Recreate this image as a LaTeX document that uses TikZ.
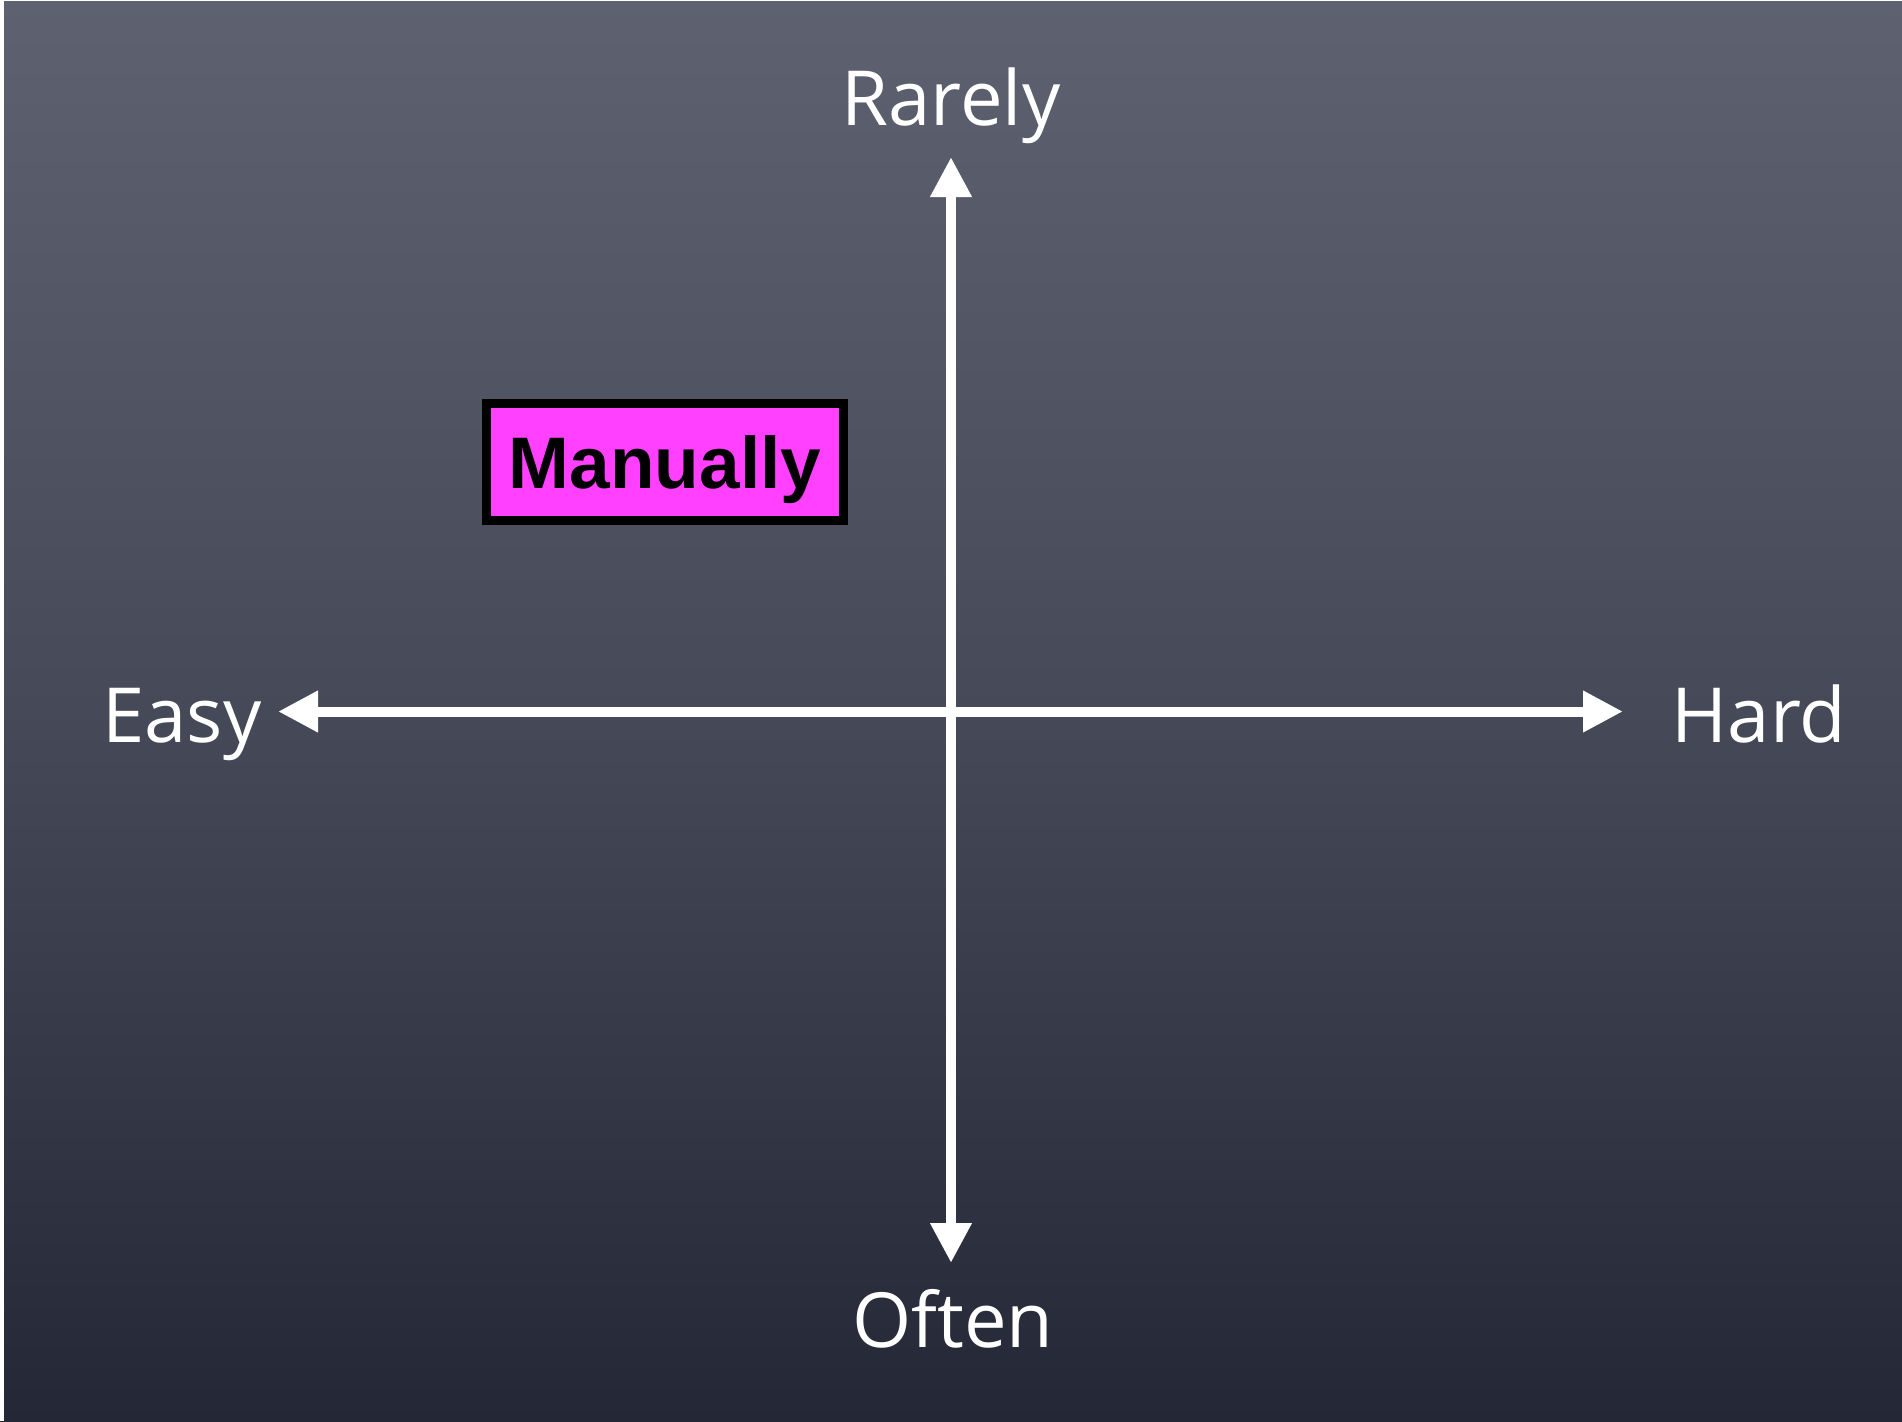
\documentclass[tikz,border=0pt]{standalone}
\usepackage{fontspec}
\setmainfont{Open Sans}
\newfontfamily\boxfont{Liberation Sans}
\usetikzlibrary{arrows.meta}
\definecolor{boardtop}{RGB}{94,98,112}
\definecolor{boardmid}{RGB}{70,74,88}
\definecolor{boardbot}{RGB}{36,39,53}
\definecolor{magentabox}{RGB}{255,64,255}
\tikzset{
  axislabel/.style={text=white, font=\fontsize{76}{90}\selectfont, anchor=base, inner sep=0pt},
  axisline/.style={draw=white, line width=10pt, {Triangle[width=39pt,length=40pt]}-{Triangle[width=39pt,length=40pt]}, white},
  tagbox/.style={draw=black, line width=9pt, fill=magentabox, minimum width=357pt, minimum height=117pt, inner sep=0pt,
    text depth=0pt, font=\boxfont\bfseries\fontsize{73}{80}\selectfont, text=black}
}
\begin{document}
\begin{tikzpicture}[x=1pt,y=-1pt]
\useasboundingbox (0,0) rectangle (1902,1421);
\shade[top color=boardtop, bottom color=boardbot, middle color=boardmid] (0,0) rectangle (1902,1421);
\fill[white] (0,0) rectangle (4,1421);
\fill[white] (0,0) rectangle (1902,1);
% axes
\coordinate (top) at (951,157);
\coordinate (bottom) at (951,1263);
\coordinate (left) at (278,711.5);
\coordinate (right) at (1623,711.5);
\draw[axisline] (top) -- (bottom);
\draw[axisline] (left) -- (right);
% labels
\node[axislabel] (rarely) at (951,125) {Rarely};
\node[axislabel] (often) at (953,1347) {Often};
\node[axislabel] (easy) at (182,742) {Easy};
\node[axislabel] (hard) at (1759,742) {Hard};
% box
\node[tagbox] (manually) at (665,462) {Manually};
\end{tikzpicture}
\end{document}
